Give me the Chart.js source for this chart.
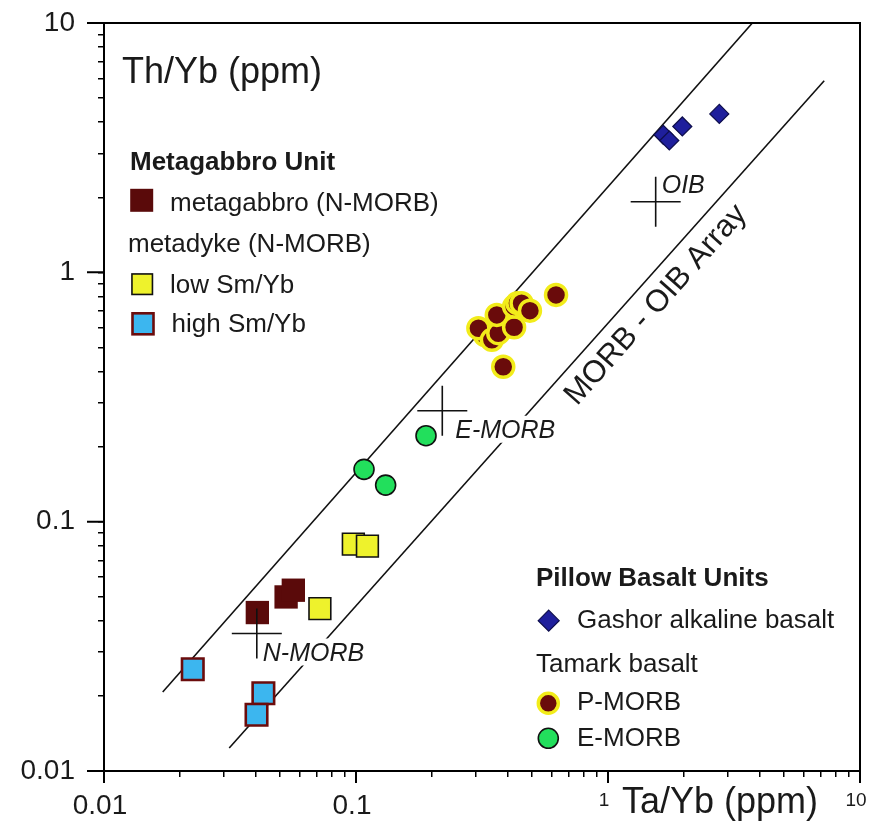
<!DOCTYPE html>
<html>
<head>
<meta charset="utf-8">
<style>
  html, body { margin: 0; padding: 0; background: #ffffff; }
  #wrap { width: 876px; height: 839px; position: relative; }
</style>
<script src="https://cdn.jsdelivr.net/npm/chart.js@4.4.1/dist/chart.umd.min.js"></script>
</head>
<body>
<div id="wrap"><canvas id="c" width="876" height="839"></canvas></div>
<script>
// ---------------- data ----------------
const majorTicks = [0.01, 0.1, 1, 10];
const tickLabels = ['0.01', '0.1', '1', '10'];
const minorMultipliers = [2, 3, 4, 5, 6, 7, 8, 9];

const xTitle = 'Ta/Yb (ppm)';
const yTitle = 'Th/Yb (ppm)';

// Metagabbro Unit
const metagabbroTa = [0.0406, 0.0528, 0.0564];
const metagabbroTh = [0.0432, 0.0499, 0.0531];
// metadyke low Sm/Yb
const lowSmTa = [0.0719, 0.0976, 0.111];
const lowSmTh = [0.0448, 0.0813, 0.0798];
// metadyke high Sm/Yb
const highSmTa = [0.0225, 0.0429, 0.0403];
const highSmTh = [0.0256, 0.0205, 0.0168];
// Gashor alkaline basalt
const gashorTa = [2.765, 1.972, 1.658, 1.751];
const gashorTh = [4.32, 3.846, 3.562, 3.379];
// Tamark basalt P-MORB
const pmorbTa = [0.622, 0.325, 0.306, 0.346, 0.367, 0.362, 0.424, 0.424, 0.437, 0.454, 0.490, 0.384];
const pmorbTh = [0.812, 0.560, 0.597, 0.536, 0.570, 0.675, 0.602, 0.729, 0.752, 0.752, 0.702, 0.418];
// Tamark basalt E-MORB
const emorbTa = [0.1896, 0.1076, 0.1311];
const emorbTh = [0.2212, 0.1621, 0.1402];

// reference compositions
const refNames = ['N-MORB', 'E-MORB', 'OIB'];
const refTa = [0.0404, 0.220, 1.546];
const refTh = [0.0356, 0.2785, 1.92];

// MORB - OIB array boundaries
const upperLineTa = [0.0171, 3.74];
const upperLineTh = [0.02075, 10];
const lowerLineTa = [0.0314, 7.21];
const lowerLineTh = [0.01236, 5.87];
const arrayLabel = 'MORB - OIB Array';
const arrayLabelTa = 1.55;
const arrayLabelTh = 0.74;

// legend texts
const legendA = ['Metagabbro Unit', 'metagabbro (N-MORB)', 'metadyke (N-MORB)', 'low Sm/Yb', 'high Sm/Yb'];
const legendB = ['Pillow Basalt Units', 'Gashor alkaline basalt', 'Tamark basalt', 'P-MORB', 'E-MORB'];

// ---------------- styling ----------------
const FONT = '"Liberation Sans", Arial, Helvetica, sans-serif';
const TEXT = '#1a1a1a';
const C = {
  gabbro: '#5a0a0a',
  yellow: '#eef22c',
  cyan: '#3cb6ef',
  cyanEdge: '#6b0c0c',
  pFill: '#6a0b0b',
  pHalo: '#f2ec1a',
  green: '#22df5c',
  navy: '#1f1f9c',
  navyEdge: '#0e0e4c'
};

// large point markers must not inflate the layout padding
Chart.registry.getController('scatter').prototype.getMaxOverflow = function () { return 0; };

const allTicks = [];
for (let i = 0; i < majorTicks.length; i++) {
  allTicks.push(majorTicks[i]);
  if (i < majorTicks.length - 1) minorMultipliers.forEach(m => allTicks.push(majorTicks[i] * m));
}

const pts = (xs, ys) => xs.map((v, i) => ({ x: v, y: ys[i] }));

const datasets = [
  { label: 'ref', data: pts(refTa, refTh), pointStyle: 'cross', pointRadius: 25,
    borderColor: '#111', borderWidth: 1.6, backgroundColor: '#111', showLine: false },
  { label: 'Gashor', data: pts(gashorTa, gashorTh), pointStyle: 'rectRot', pointRadius: 9.5,
    backgroundColor: C.navy, borderColor: C.navyEdge, borderWidth: 1.2, showLine: false },
  { label: 'P-MORB', data: pts(pmorbTa, pmorbTh), pointStyle: 'circle', pointRadius: 10.5,
    backgroundColor: C.pFill, borderColor: C.pHalo, borderWidth: 3.5, showLine: false },
  { label: 'E-MORB', data: pts(emorbTa, emorbTh), pointStyle: 'circle', pointRadius: 10,
    backgroundColor: C.green, borderColor: '#111', borderWidth: 1.6, showLine: false },
  { label: 'high', data: pts(highSmTa, highSmTh), pointStyle: 'rect', pointRadius: 15.2,
    backgroundColor: C.cyan, borderColor: C.cyanEdge, borderWidth: 2.6, showLine: false },
  { label: 'low', data: pts(lowSmTa, lowSmTh), pointStyle: 'rect', pointRadius: 15.4,
    backgroundColor: C.yellow, borderColor: '#111', borderWidth: 1.6, showLine: false },
  { label: 'gabbro', data: pts(metagabbroTa, metagabbroTh), pointStyle: 'rect', pointRadius: 16.5,
    backgroundColor: C.gabbro, borderColor: C.gabbro, borderWidth: 0, showLine: false },
  { label: 'upper', data: pts(upperLineTa, upperLineTh), showLine: true, pointRadius: 0,
    borderColor: '#111', borderWidth: 1.6, fill: false, tension: 0 },
  { label: 'lower', data: pts(lowerLineTa, lowerLineTh), showLine: true, pointRadius: 0,
    borderColor: '#111', borderWidth: 1.6, fill: false, tension: 0 }
];

const refLabelOffsets = [[6, 27], [13, 27], [6, -9]];
const refLabelBoxed = [true, true, false];

function drawSquare(ctx, cx, cy, s, fill, stroke, lw) {
  ctx.fillStyle = fill;
  ctx.fillRect(cx - s / 2, cy - s / 2, s, s);
  if (lw > 0) { ctx.lineWidth = lw; ctx.strokeStyle = stroke; ctx.strokeRect(cx - s / 2, cy - s / 2, s, s); }
}
function drawCircle(ctx, cx, cy, r, fill, stroke, lw) {
  ctx.beginPath(); ctx.arc(cx, cy, r, 0, Math.PI * 2);
  ctx.fillStyle = fill; ctx.fill();
  ctx.lineWidth = lw; ctx.strokeStyle = stroke; ctx.stroke();
}
function drawDiamond(ctx, cx, cy, r, fill, stroke, lw) {
  ctx.beginPath();
  ctx.moveTo(cx, cy - r); ctx.lineTo(cx + r, cy); ctx.lineTo(cx, cy + r); ctx.lineTo(cx - r, cy);
  ctx.closePath();
  ctx.fillStyle = fill; ctx.fill();
  ctx.lineWidth = lw; ctx.strokeStyle = stroke; ctx.stroke();
}

const decor = {
  id: 'decor',
  afterDatasetsDraw(chart) {
    const { ctx, scales: { x, y } } = chart;
    ctx.save();
    // reference composition labels
    ctx.font = 'italic 25px ' + FONT;
    ctx.textAlign = 'left';
    ctx.textBaseline = 'alphabetic';
    refNames.forEach((n, i) => {
      const px = x.getPixelForValue(refTa[i]) + refLabelOffsets[i][0];
      const py = y.getPixelForValue(refTh[i]) + refLabelOffsets[i][1];
      const w = ctx.measureText(n).width;
      if (refLabelBoxed[i]) { ctx.fillStyle = '#fff'; ctx.fillRect(px - 2, py - 22, w + 6, 27); }
      ctx.fillStyle = TEXT;
      ctx.fillText(n, px, py);
    });
    // array label
    const p0x = x.getPixelForValue(lowerLineTa[0]), p0y = y.getPixelForValue(lowerLineTh[0]);
    const p1x = x.getPixelForValue(lowerLineTa[1]), p1y = y.getPixelForValue(lowerLineTh[1]);
    const ang = Math.atan2(p1y - p0y, p1x - p0x);
    ctx.save();
    ctx.translate(x.getPixelForValue(arrayLabelTa), y.getPixelForValue(arrayLabelTh));
    ctx.rotate(ang);
    ctx.font = '31px ' + FONT;
    ctx.textAlign = 'center';
    ctx.textBaseline = 'middle';
    ctx.fillStyle = TEXT;
    ctx.fillText(arrayLabel, 0, 0);
    ctx.restore();

    // axis titles
    ctx.font = '36px ' + FONT;
    ctx.textAlign = 'left';
    ctx.textBaseline = 'alphabetic';
    ctx.fillStyle = TEXT;
    ctx.fillText(yTitle, 122, 83);
    ctx.fillText(xTitle, 622, 813);

    // legend A
    ctx.font = 'bold 26px ' + FONT;
    ctx.fillText(legendA[0], 130, 170);
    ctx.font = '26px ' + FONT;
    drawSquare(ctx, 141.7, 200.3, 23, C.gabbro, C.gabbro, 0);
    ctx.fillStyle = TEXT; ctx.fillText(legendA[1], 170, 211);
    ctx.fillText(legendA[2], 128, 252);
    drawSquare(ctx, 142.2, 284.2, 20.5, C.yellow, '#111', 1.6);
    ctx.fillStyle = TEXT; ctx.fillText(legendA[3], 170, 292.5);
    drawSquare(ctx, 143, 323.8, 21, C.cyan, C.cyanEdge, 2.6);
    ctx.fillStyle = TEXT; ctx.fillText(legendA[4], 171.5, 332);

    // legend B
    ctx.font = 'bold 26px ' + FONT;
    ctx.fillText(legendB[0], 536, 586);
    ctx.font = '26px ' + FONT;
    drawDiamond(ctx, 548.7, 620.7, 10.5, C.navy, C.navyEdge, 1.2);
    ctx.fillStyle = TEXT; ctx.fillText(legendB[1], 577, 627.5);
    ctx.fillText(legendB[2], 536, 672);
    drawCircle(ctx, 548.3, 703.3, 10, C.pFill, C.pHalo, 3.5);
    ctx.fillStyle = TEXT; ctx.fillText(legendB[3], 577, 710);
    drawCircle(ctx, 548.3, 738.3, 10, C.green, '#111', 1.6);
    ctx.fillStyle = TEXT; ctx.fillText(legendB[4], 577, 746);
    ctx.restore();
  },
  afterDraw(chart) {
    const { ctx, chartArea: a, scales: { x, y } } = chart;
    ctx.save();
    ctx.strokeStyle = '#000';
    ctx.lineWidth = 2;
    ctx.beginPath();
    ctx.moveTo(a.left, a.top); ctx.lineTo(a.right, a.top); ctx.lineTo(a.right, a.bottom);
    ctx.stroke();
    // long major ticks
    ctx.beginPath();
    majorTicks.forEach(v => {
      const py = y.getPixelForValue(v);
      ctx.moveTo(a.left - 17, py); ctx.lineTo(a.left, py);
      const px = x.getPixelForValue(v);
      ctx.moveTo(px, a.bottom); ctx.lineTo(px, a.bottom + 12);
    });
    ctx.stroke();
    ctx.restore();
  }
};

const tickCallback = (v) => { const i = majorTicks.indexOf(v); return i >= 0 ? tickLabels[i] : ''; };
const setTicks = (s) => { s.ticks = allTicks.map(v => ({ value: v })); };
const zeroPad = (s) => { s.paddingTop = 0; s.paddingBottom = 0; s.paddingLeft = 0; s.paddingRight = 0; };

new Chart(document.getElementById('c'), {
  type: 'scatter',
  data: { datasets },
  options: {
    responsive: false,
    animation: false,
    events: [],
    layout: { padding: { left: 0, right: 16, top: 23, bottom: 0 } },
    plugins: { legend: { display: false }, tooltip: { enabled: false } },
    scales: {
      x: {
        type: 'logarithmic', min: 0.01, max: 10,
        afterBuildTicks: setTicks,
        afterFit: s => { s.height = 68; zeroPad(s); },
        ticks: {
          autoSkip: false, maxRotation: 0, minRotation: 0, padding: 12, labelOffset: -4,
          callback: tickCallback, color: TEXT,
          font: c => ({ family: FONT, size: (c.tick && c.tick.value >= 1) ? 19 : 28 })
        },
        grid: { display: true, drawOnChartArea: false, drawTicks: true, tickLength: 6, color: '#000', lineWidth: 1.5 },
        border: { display: true, color: '#000', width: 2 }
      },
      y: {
        type: 'logarithmic', min: 0.01, max: 10,
        afterBuildTicks: setTicks,
        afterFit: s => { s.width = 104; zeroPad(s); },
        ticks: {
          autoSkip: false, padding: 23, callback: tickCallback, color: TEXT,
          font: { family: FONT, size: 28 }
        },
        grid: { display: true, drawOnChartArea: false, drawTicks: true, tickLength: 6, color: '#000', lineWidth: 1.5 },
        border: { display: true, color: '#000', width: 2 }
      }
    }
  },
  plugins: [decor]
});
</script>
</body>
</html>
